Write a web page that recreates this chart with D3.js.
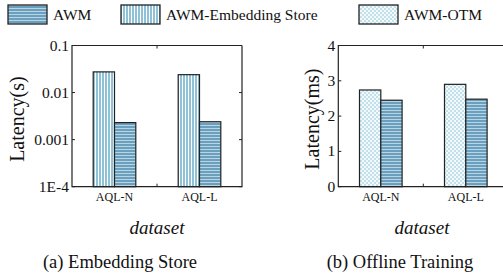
<!DOCTYPE html>
<html>
<head>
<meta charset="utf-8" />
<title>Latency bars</title>
<script src="https://d3js.org/d3.v7.min.js"></script>
<style>
    body { margin: 0; background: #fff; }
    svg text { font-family: 'Liberation Serif', 'Times New Roman', serif; fill: #111; }
</style>
</head>
<body>
<div id="chart"></div>
<script>
// data
var datasets = ["AQL-N", "AQL-L"];
var storeSeries = ["AWM-Embedding Store", "AWM"];
var storeValues = [[0.0275, 0.0023], [0.024, 0.0024]];     // seconds
var trainSeries = ["AWM-OTM", "AWM"];
var trainValues = [[2.74, 2.45], [2.9, 2.48]];             // ms
var logTicks = [0.1, 0.01, 0.001, 0.0001];
var logTickLabels = ["0.1", "0.01", "0.001", "1E-4"];
var linTicks = [0, 1, 2, 3, 4];
var legendNames = ["AWM", "AWM-Embedding Store", "AWM-OTM"];

var W = 503, H = 279;
var svg = d3.select("#chart").append("svg").attr("width", W).attr("height", H);

// fill patterns
var defs = svg.append("defs");
var ph = defs.append("pattern").attr("id", "p-awm").attr("patternUnits", "userSpaceOnUse")
    .attr("width", 4).attr("height", 3);
ph.append("rect").attr("width", 4).attr("height", 3).attr("fill", "#b9d5e5");
ph.append("rect").attr("width", 4).attr("height", 2).attr("fill", "#6b9fbe");

var pv = defs.append("pattern").attr("id", "p-store").attr("patternUnits", "userSpaceOnUse")
    .attr("width", 3).attr("height", 4);
pv.append("rect").attr("width", 3).attr("height", 4).attr("fill", "#ffffff");
pv.append("rect").attr("width", 2).attr("height", 4).attr("fill", "#8fc2d6");

var pc = defs.append("pattern").attr("id", "p-otm").attr("patternUnits", "userSpaceOnUse")
    .attr("width", 4).attr("height", 4);
pc.append("rect").attr("width", 4).attr("height", 4).attr("fill", "#f4fafc");
pc.append("rect").attr("width", 2).attr("height", 2).attr("fill", "#c2e0ea");
pc.append("rect").attr("x", 2).attr("y", 2).attr("width", 2).attr("height", 2).attr("fill", "#c2e0ea");

var fillOf = {
    "AWM": "url(#p-awm)",
    "AWM-Embedding Store": "url(#p-store)",
    "AWM-OTM": "url(#p-otm)"
};

// legend
var legendX = [8, 121, 359];
legendNames.forEach(function (name, i) {
    svg.append("rect").attr("x", legendX[i]).attr("y", 5).attr("width", 39).attr("height", 19)
        .attr("fill", fillOf[name]).attr("stroke", "#222").attr("stroke-width", 1.3);
    svg.append("text").attr("x", legendX[i] + 45).attr("y", 20)
        .style("font-size", "15.5px").text(name);
});

function panel(opts) {
    var g = svg.append("g");
    var x0 = opts.left, pw = 170, top = 45.5, bottom = 186.7;
    var x = d3.scalePoint().domain(datasets).range([x0, x0 + pw]).padding(0.5);
    var xs = d3.scaleBand().domain(opts.series).range([-21.3, 21.3]);
    var y = opts.y.range([bottom, top]);

    // bars
    datasets.forEach(function (d, i) {
        opts.series.forEach(function (s, j) {
            var v = opts.values[i][j];
            g.append("rect")
                .attr("x", x(d) + xs(s))
                .attr("y", y(v))
                .attr("width", xs.bandwidth())
                .attr("height", bottom - y(v))
                .attr("fill", fillOf[s])
                .attr("stroke", "#222")
                .attr("stroke-width", 1.2);
        });
    });

    // frame
    g.append("path")
        .attr("d", "M" + (x0 + pw) + "," + top + "H" + x0 + "V" + bottom + "H" + (x0 + pw) + "V" + top)
        .attr("fill", "none").attr("stroke", "#222").attr("stroke-width", 1.2);

    // y ticks and labels
    opts.ticks.forEach(function (t, i) {
        g.append("line").attr("x1", x0).attr("x2", x0 + 3).attr("y1", y(t)).attr("y2", y(t))
            .attr("stroke", "#222");
        g.append("line").attr("x1", x0 + pw).attr("x2", x0 + pw - 3).attr("y1", y(t)).attr("y2", y(t))
            .attr("stroke", "#222");
        g.append("text").attr("x", x0 - 3).attr("y", y(t) + 5)
            .attr("text-anchor", "end").style("font-size", "15.5px").text(opts.tickLabels[i]);
    });

    // x ticks at mid-points, top & bottom
    [x0 + pw / 2].forEach(function (m) {
        g.append("line").attr("x1", m).attr("x2", m).attr("y1", bottom).attr("y2", bottom - 3).attr("stroke", "#222");
        g.append("line").attr("x1", m).attr("x2", m).attr("y1", top).attr("y2", top + 3).attr("stroke", "#222");
    });

    datasets.forEach(function (d) {
        g.append("text").attr("x", x(d)).attr("y", 201)
            .attr("text-anchor", "middle").style("font-size", "12px").text(d);
    });

    g.append("text")
        .attr("transform", "translate(" + opts.ylabX + "," + ((top + bottom) / 2 + 3) + ") rotate(-90)")
        .attr("text-anchor", "middle").style("font-size", "20px").text(opts.ylab);

    g.append("text").attr("x", opts.dsX).attr("y", 234)
        .attr("text-anchor", "middle").style("font-size", "19px").style("font-style", "italic")
        .text("dataset");

    g.append("text").attr("x", opts.capX).attr("y", 268)
        .attr("text-anchor", "middle").style("font-size", "18.5px").text(opts.caption);
}

panel({
    left: 72,
    series: storeSeries,
    values: storeValues,
    y: d3.scaleLog().domain([0.0001, 0.1]),
    ticks: logTicks,
    tickLabels: logTickLabels,
    ylab: "Latency(s)",
    ylabX: 24,
    dsX: 157,
    capX: 120,
    caption: "(a)  Embedding Store"
});

panel({
    left: 338.3,
    series: trainSeries,
    values: trainValues,
    y: d3.scaleLinear().domain([0, 4]),
    ticks: linTicks,
    tickLabels: linTicks.map(String),
    ylab: "Latency(ms)",
    ylabX: 319,
    dsX: 422,
    capX: 400,
    caption: "(b)  Offline Training"
});
</script>
</body>
</html>
